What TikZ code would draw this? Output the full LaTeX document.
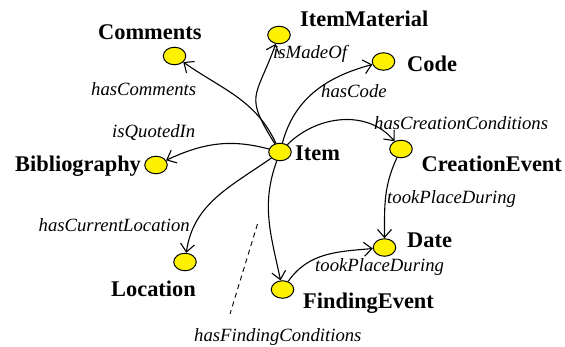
\documentclass[tikz,border=0pt]{standalone}
\usepackage{fontspec}
\setmainfont{Liberation Serif}
\newfontfamily\lblserif{Liberation Serif}
\usetikzlibrary{shapes.geometric,arrows.meta}
\begin{document}
\begin{tikzpicture}[x=1pt,y=-1pt,
  cls/.style={ellipse,draw,fill=yellow,line width=1pt,minimum width=22.5pt,minimum height=17.5pt,inner sep=0pt},
  lbl/.style={anchor=base west,inner sep=0pt,font=\lblserif\fontsize{22.4}{24}\selectfont\bfseries},
  rel/.style={anchor=base west,inner sep=0pt,font=\lblserif\fontsize{18.7}{20}\selectfont\itshape},
  conn/.style={line width=1.1pt,-{Straight Barb[length=8pt,width=14pt,line width=1.1pt]}}]
\useasboundingbox (0,0) rectangle (565,347);
% ellipses
\node[cls] (comments) at (174.5,56) {};
\node[cls] (material) at (279,35) {};
\node[cls] (code) at (383.5,61.5) {};
\node[cls] (item) at (280,152) {};
\node[cls] (creation) at (401,149) {};
\node[cls] (biblio) at (156,165) {};
\node[cls] (location) at (185,262) {};
\node[cls] (finding) at (282.5,289.5) {};
\node[cls] (date) at (384.5,247.5) {};
% class labels
\node[lbl] (tComments) at (98,40) {Comments};
\node[lbl] (tMaterial) at (300,27) {ItemMaterial};
\node[lbl] (tCode) at (407,72) {Code};
\node[lbl] (tItem) at (295,161) {Item};
\node[lbl] (tCreation) at (421.5,171.5) {CreationEvent};
\node[lbl] (tBiblio) at (15,172) {Bibliography};
\node[lbl] (tLocation) at (111,297) {Location};
\node[lbl] (tFinding) at (303,309) {FindingEvent};
\node[lbl] (tDate) at (407,248) {Date};
% relation labels
\node[rel] (rComments) at (91,96) {hasComments};
\node[rel] (rQuoted) at (112,138) {isQuotedIn};
\node[rel] (rMade) at (273,59) {isMadeOf};
\node[rel] (rCode) at (321,97.5) {hasCode};
\node[rel] (rCreation) at (374,129.5) {hasCreationConditions};
\node[rel] (rLocation) at (38.5,231.5) {hasCurrentLocation};
\node[rel] (rFinding) at (194,341.5) {hasFindingConditions};
\node[rel] (rTook1) at (387,203.5) {tookPlaceDuring};
\node[rel] (rTook2) at (315,271.5) {tookPlaceDuring};
% connectors
\draw[conn] (item) to[out=115,in=-35] (comments);
\draw[conn] (item) to[out=122,in=-110,looseness=1.5] (material);
\draw[conn] (item) to[out=75,in=195] (code);
\draw[conn] (item) to[out=45,in=130] (creation);
\draw[conn] (item) to[out=165,in=25] (biblio);
\draw[conn] (item) to[out=215,in=82] (location);
\draw[conn] (item) to[out=250,in=102] (finding);
\draw[conn] (creation) to[out=245,in=90] (date);
\draw[conn] (finding) to[out=55,in=185] (date);
\coordinate (dTop) at (257.5,224);
\coordinate (dBot) at (230,314);
\draw[line width=0.9pt,dash pattern=on 5pt off 4pt] (dTop) -- (dBot);
\end{tikzpicture}
\end{document}
